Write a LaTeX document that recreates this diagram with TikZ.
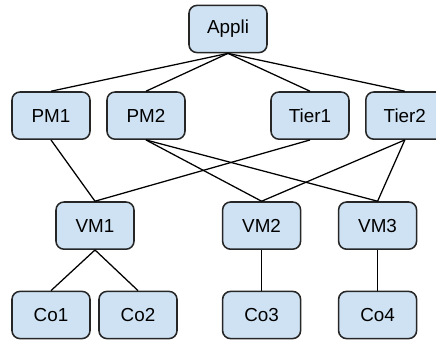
\documentclass[tikz,border=0pt]{standalone}
\usepackage{fontspec}
\setmainfont{Liberation Sans}
\usepackage{tikz}
\usepackage{xcolor}
\definecolor{boxblue}{HTML}{CFE2F3}

\begin{document}
\begin{tikzpicture}[box/.style={rectangle,draw=black!85,fill=boxblue,line width=1.1pt,rounded corners=0.2cm,minimum width=1.95cm,minimum height=1.18cm,font=\fontsize{13.4}{15}\selectfont}]
    \useasboundingbox (0,0) rectangle (10.9,-8.5);
    \node[box] (appli) at (5.7,-0.725) {Appli};

    \node[box] (pm1) at (1.275,-2.89) {PM1};
    \node[box] (pm2) at (3.65,-2.89) {PM2};
    \node[box] (tier1) at (7.75,-2.89) {Tier1};
    \node[box] (tier2) at (10.12,-2.89) {Tier2};

    \node[box] (vm1) at (2.375,-5.64) {VM1};
    \node[box] (vm2) at (6.54,-5.64) {VM2};
    \node[box] (vm3) at (9.44,-5.64) {VM3};

    \node[box] (co1) at (1.275,-7.875) {Co1};
    \node[box] (co2) at (3.45,-7.875) {Co2};
    \node[box] (co3) at (6.54,-7.875) {Co3};
    \node[box] (co4) at (9.44,-7.875) {Co4};

    \draw[line width=0.9pt] (appli.south) -- (pm1.north);
    \draw[line width=0.9pt] (appli.south) -- (pm2.north);
    \draw[line width=0.9pt] (appli.south) -- (tier1.north);
    \draw[line width=0.9pt] (appli.south) -- (tier2.north);
    \draw[line width=0.9pt] (pm1.south) -- (vm1.north);
    \draw[line width=0.9pt] (pm2.south) -- (vm2.north);
    \draw[line width=0.9pt] (pm2.south) -- (vm3.north);
    \draw[line width=0.9pt] (tier1.south) -- (vm1.north);
    \draw[line width=0.9pt] (tier2.south) -- (vm2.north);
    \draw[line width=0.9pt] (tier2.south) -- (vm3.north);
    \draw[line width=0.9pt] (vm1.south) -- (co1.north);
    \draw[line width=0.9pt] (vm1.south) -- (co2.north);
    \draw[line width=0.9pt] (vm2.south) -- (co3.north);
    \draw[line width=0.9pt] (vm3.south) -- (co4.north);
\end{tikzpicture}
\end{document}
